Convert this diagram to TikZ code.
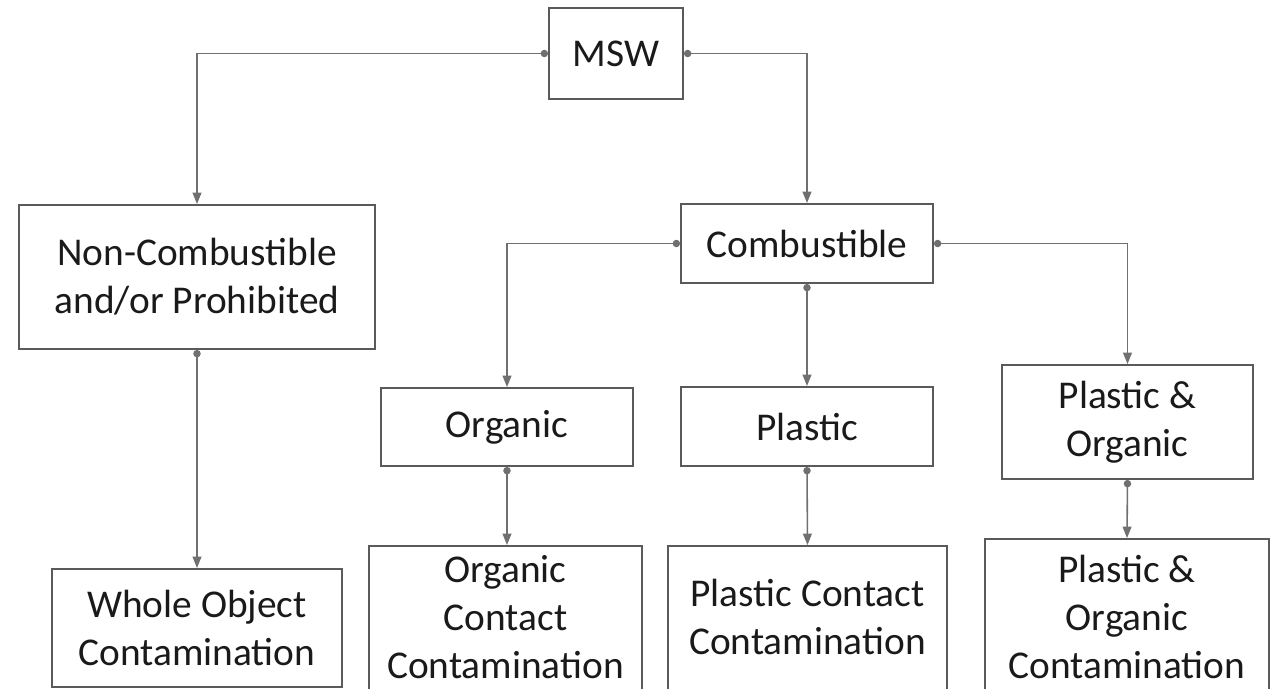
\documentclass[tikz,border=0pt]{standalone}
\usepackage{fontspec}
\setmainfont{Carlito}
\usepackage{tikz}
\usetikzlibrary{arrows.meta, positioning}
\definecolor{BoxGray}{HTML}{5A5A5A}
\definecolor{LinkGray}{HTML}{707070}
\definecolor{TextInk}{HTML}{1A1A1A}

\begin{document}
\begin{tikzpicture}[
      box/.style={draw=BoxGray, line width=1.1pt, fill=white, align=center, inner sep=0pt,
                  text=TextInk, font=\fontsize{22.4}{27.3}\selectfont},
      cutbox/.style={box, text depth=0.14cm},
      link/.style={{Circle[length=4.2pt]}-{Triangle[length=6.5pt, width=5pt]}, draw=LinkGray, line width=0.9pt}
  ]
      \useasboundingbox (0,0) rectangle (25.62,-13.76);

      % Root and first split
      \node[box, minimum width=2.68cm, minimum height=1.82cm] (msw) at (12.32,-1.07) {MSW};
      \node[box, minimum width=7.12cm, minimum height=2.88cm] (noncomb) at (3.94,-5.54) {Non-Combustible\\and/or Prohibited};
      \node[box, minimum width=5.04cm, minimum height=1.58cm] (comb) at (16.14,-4.87) {Combustible};

      % Combustible fractions
      \node[box, minimum width=5.04cm, minimum height=1.56cm] (organic) at (10.14,-8.54) {Organic};
      \node[box, minimum width=5.04cm, minimum height=1.58cm] (plastic) at (16.14,-8.53) {Plastic};
      \node[box, minimum width=5.02cm, minimum height=2.28cm] (plorg) at (22.55,-8.44) {Plastic \&\\Organic};

      % Contamination types
      \node[box, minimum width=5.80cm, minimum height=2.36cm] (whole) at (3.94,-12.56) {Whole Object\\Contamination};
      \node[cutbox, minimum width=5.46cm, minimum height=2.96cm] (orgcont) at (10.11,-12.40) {Organic\\Contact\\Contamination};
      \node[cutbox, minimum width=5.58cm, minimum height=2.96cm] (plcont) at (16.15,-12.40) {Plastic Contact\\Contamination};
      \node[cutbox, minimum width=5.68cm, minimum height=3.24cm] (plorgcont) at (22.54,-12.40) {Plastic \&\\Organic\\Contamination};

      % Connectors
      \draw[link] (msw.west) -| (noncomb.north);
      \draw[link] (msw.east) -| (comb.north);
      \draw[link] (comb.west) -| (organic.north);
      \draw[link] (comb.south) -- (plastic.north);
      \draw[link] (comb.east) -| (plorg.north);
      \draw[link] (noncomb.south) -- (whole.north);
      \draw[link] (organic.south) -- (organic.south |- orgcont.north);
      \draw[link] (plastic.south) -- (plcont.north);
      \draw[link] (plorg.south) -- (plorgcont.north);
  \end{tikzpicture}
\end{document}
